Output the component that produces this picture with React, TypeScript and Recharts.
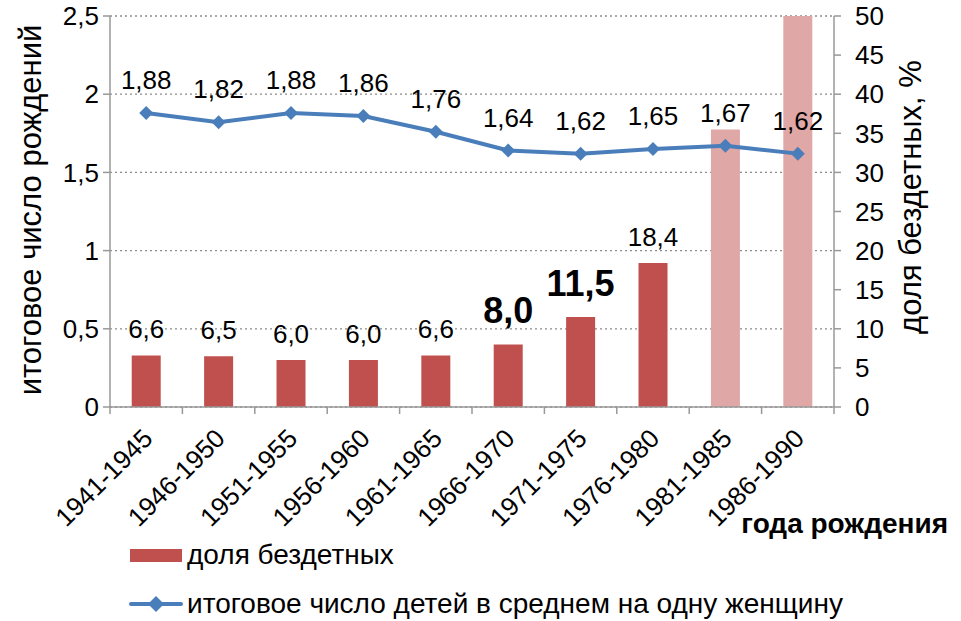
import React from 'react';
import {
  ComposedChart,
  Bar,
  Line,
  XAxis,
  YAxis,
  CartesianGrid,
  Legend,
  Cell,
  LabelList,
} from 'recharts';

// Birth cohorts (x axis)
const periods = [
  '1941-1945', '1946-1950', '1951-1955', '1956-1960', '1961-1965',
  '1966-1970', '1971-1975', '1976-1980', '1981-1985', '1986-1990',
];
// Share of childless women, % (right axis)
const childlessShare = [6.6, 6.5, 6.0, 6.0, 6.6, 8.0, 11.5, 18.4, 35.5, 50];
// Completed fertility, children per woman (left axis)
const fertility = [1.88, 1.82, 1.88, 1.86, 1.76, 1.64, 1.62, 1.65, 1.67, 1.62];
// Which cohorts are projections (lighter bars, no label)
const projected = [false, false, false, false, false, false, false, false, true, true];
// Which bar labels are emphasised
const emphasised = [false, false, false, false, false, true, true, false, false, false];

const leftTicks = [0, 0.5, 1, 1.5, 2, 2.5];
const rightTicks = [0, 5, 10, 15, 20, 25, 30, 35, 40, 45, 50];

const FONT = '"Liberation Sans", Arial, sans-serif';
const BAR_COLOR = '#C0504D';
const BAR_LIGHT = '#DFA7A6';
const LINE_COLOR = '#4A7EBB';
const AXIS_COLOR = '#999999';

const W = 961;
const H = 621;
const LEFT_W = 110;
const RIGHT_W = 127;
const BAND = (W - LEFT_W - RIGHT_W) / periods.length;

const chartData = periods.map((p, i) => ({
  period: p,
  share: childlessShare[i],
  fertility: fertility[i],
  projected: projected[i],
  emphasised: emphasised[i],
}));

const comma = (v: number, digits: number) => v.toFixed(digits).replace('.', ',');

const XTick = (props: any) => {
  const { x, y, payload, index } = props;
  const half = BAND / 2;
  const tx = x + 8;
  const ty = y + 33;
  return (
    <g>
      <line x1={x - half} x2={x - half} y1={y} y2={y + 7} stroke={AXIS_COLOR} strokeWidth={1.5} />
      {index === periods.length - 1 && (
        <line x1={x + half} x2={x + half} y1={y} y2={y + 7} stroke={AXIS_COLOR} strokeWidth={1.5} />
      )}
      <text
        x={tx}
        y={ty}
        transform={`rotate(-45, ${tx}, ${ty})`}
        textAnchor="end"
        fontFamily={FONT}
        fontSize={26}
        fill="#000"
      >
        {payload.value}
      </text>
    </g>
  );
};

const Diamond = (props: any) => {
  const { cx, cy } = props;
  if (cx == null || cy == null) return null;
  const r = 7;
  return (
    <polygon
      points={`${cx},${cy - r} ${cx + r},${cy} ${cx},${cy + r} ${cx - r},${cy}`}
      fill={LINE_COLOR}
    />
  );
};

const renderBarLabel = (props: any) => {
  const { x, y, width, index } = props;
  const d = chartData[index];
  if (!d || d.projected) return null;
  const big = d.emphasised;
  return (
    <text
      x={x + width / 2}
      y={big ? y - 21 : y - 17}
      textAnchor="middle"
      fontFamily={FONT}
      fontSize={big ? 36 : 26}
      fontWeight={big ? 700 : 400}
      fill="#000"
    >
      {comma(d.share, 1)}
    </text>
  );
};

const renderLineLabel = (props: any) => {
  const { x, y, value } = props;
  return (
    <text x={x} y={y - 24} textAnchor="middle" fontFamily={FONT} fontSize={26} fill="#000">
      {comma(value, 2)}
    </text>
  );
};

const renderLegend = () => (
  <div style={{ height: 90, position: 'relative', fontFamily: FONT, fontSize: 28, color: '#000', lineHeight: '32px' }}>
    <div style={{ position: 'absolute', left: 130, top: 8, display: 'flex', alignItems: 'center' }}>
      <span style={{ display: 'inline-block', width: 52, height: 13, background: BAR_COLOR, marginRight: 5 }} />
      <span>доля бездетных</span>
    </div>
    <div style={{ position: 'absolute', left: 128, top: 57, display: 'flex', alignItems: 'center' }}>
      <svg width={56} height={18} style={{ marginRight: 3 }}>
        <line x1={3} x2={53} y1={9} y2={9} stroke={LINE_COLOR} strokeWidth={4} strokeLinecap="round" />
        <polygon points="28,1 36,9 28,17 20,9" fill={LINE_COLOR} />
      </svg>
      <span>итоговое число детей в среднем на одну женщину</span>
    </div>
  </div>
);

export default function App() {
  return (
    <div style={{ position: 'absolute', left: 0, top: 0, width: W, height: H, background: '#fff' }}>
      <ComposedChart
        width={W}
        height={H}
        data={chartData}
        margin={{ top: 16, right: 0, bottom: 0, left: 0 }}
        barCategoryGap="30%"
      >
        <CartesianGrid
          yAxisId="left"
          vertical={false}
          stroke="#8c8c8c"
          strokeDasharray="2 3"
          strokeWidth={1.3}
        />
        <XAxis
          dataKey="period"
          tick={<XTick />}
          tickLine={false}
          tickSize={0}
          tickMargin={0}
          interval={0}
          height={124}
          axisLine={{ stroke: AXIS_COLOR, strokeWidth: 1.5 }}
          label={{
            content: (p: any) => {
              const vb = p.viewBox;
              return (
                <text
                  x={vb.x + vb.width + 114}
                  y={vb.y + 126}
                  textAnchor="end"
                  fontFamily={FONT}
                  fontSize={28}
                  fontWeight={700}
                  fill="#000"
                >
                  года рождения
                </text>
              );
            },
          }}
        />
        <YAxis
          yAxisId="left"
          orientation="left"
          width={LEFT_W}
          domain={[0, 2.5]}
          ticks={leftTicks}
          interval={0}
          tickFormatter={(v: number) => String(v).replace('.', ',')}
          tick={{ fontFamily: FONT, fontSize: 26, fill: '#000' }}
          tickSize={7}
          tickMargin={4}
          axisLine={{ stroke: AXIS_COLOR, strokeWidth: 1.5 }}
          tickLine={{ stroke: AXIS_COLOR, strokeWidth: 1.5 }}
          label={{
            content: () => (
              <text
                x={41}
                y={210}
                transform="rotate(-90, 41, 210)"
                textAnchor="middle"
                fontFamily={FONT}
                fontSize={31}
                fill="#000"
              >
                итоговое число рождений
              </text>
            ),
          }}
        />
        <YAxis
          yAxisId="right"
          orientation="right"
          width={RIGHT_W}
          domain={[0, 50]}
          ticks={rightTicks}
          interval={0}
          tick={{ fontFamily: FONT, fontSize: 26, fill: '#000', textAnchor: 'start' }}
          tickSize={7}
          tickMargin={14}
          axisLine={{ stroke: AXIS_COLOR, strokeWidth: 1.5 }}
          tickLine={{ stroke: AXIS_COLOR, strokeWidth: 1.5 }}
          label={{
            content: () => (
              <text
                x={921}
                y={197}
                transform="rotate(-90, 921, 197)"
                textAnchor="middle"
                fontFamily={FONT}
                fontSize={31}
                fill="#000"
              >
                доля бездетных, %
              </text>
            ),
          }}
        />
        <Legend verticalAlign="bottom" content={renderLegend} wrapperStyle={{ left: 0, width: W }} />
        <Bar yAxisId="right" dataKey="share" name="доля бездетных" isAnimationActive={false}>
          {chartData.map((d, i) => (
            <Cell key={i} fill={d.projected ? BAR_LIGHT : BAR_COLOR} />
          ))}
          <LabelList dataKey="share" content={renderBarLabel} />
        </Bar>
        <Line
          yAxisId="left"
          dataKey="fertility"
          name="итоговое число детей в среднем на одну женщину"
          stroke={LINE_COLOR}
          strokeWidth={4}
          dot={<Diamond />}
          activeDot={false}
          isAnimationActive={false}
        >
          <LabelList dataKey="fertility" content={renderLineLabel} />
        </Line>
      </ComposedChart>
    </div>
  );
}
